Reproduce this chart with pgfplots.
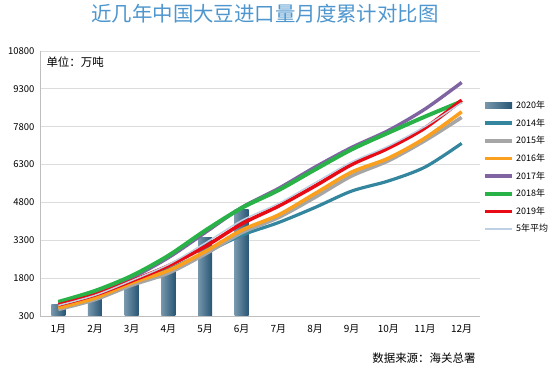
\documentclass[border=0pt]{standalone}
\usepackage{fontspec}
\setmainfont{Noto Sans CJK SC}
\usepackage{pgfplots}
\pgfplotsset{compat=1.18}
\definecolor{cteal}{RGB}{52,134,158}
\definecolor{cgray}{RGB}{166,166,166}
\definecolor{corange}{RGB}{250,160,30}
\definecolor{cpurple}{RGB}{128,100,162}
\definecolor{cgreen}{RGB}{40,178,72}
\definecolor{cred}{RGB}{232,10,20}
\definecolor{cavg}{RGB}{190,208,228}
\definecolor{barlight}{RGB}{118,150,172}
\definecolor{bardark}{RGB}{40,86,116}
\definecolor{titleblue}{RGB}{78,150,205}
\definecolor{gridgray}{RGB}{220,220,220}
\definecolor{axgray}{RGB}{190,190,190}
\begin{document}
\begin{tikzpicture}
\useasboundingbox (-40bp,-52bp) rectangle (510bp,316bp);
\begin{axis}[
  at={(0,0)}, anchor=south west, scale only axis,
  width=440bp, height=265bp,
  xmin=0.5, xmax=12.5, ymin=300, ymax=10800,
  xtick={1,...,12},
  xticklabels={1月,2月,3月,4月,5月,6月,7月,8月,9月,10月,11月,12月},
  ytick={300,1800,3300,4800,6300,7800,9300,10800},
  scaled y ticks=false,
  /pgf/number format/assume math mode=true,
  yticklabel style={/pgf/number format/fixed,/pgf/number format/1000 sep={},font=\fontsize{9.5}{10}\selectfont,xshift=-2bp},
  xticklabel style={font=\fontsize{10}{11}\selectfont,yshift=-5bp},
  major tick length=0pt,
  axis lines=left,
  axis line style={-,draw=axgray},
  ymajorgrids, grid style={draw=gridgray,line width=0.8bp},
  legend cell align=left,
  legend style={at={(1,0.82)}, anchor=north west, draw=none, fill=none,
    font=\fontsize{9}{9.5}\selectfont, row sep=4.6bp, inner xsep=3bp, inner ysep=0pt},
  legend image code/.code={\draw[#1] (0bp,0bp) -- (27bp,0bp);},
  barstyle/.style={ybar, bar width=14bp, bar shift=0pt, draw=none, left color=barlight, right color=bardark},
]
\addplot[barstyle,
  legend image code/.code={\fill[left color=barlight, right color=bardark] (0bp,-3bp) rectangle (27bp,3bp);}]
  coordinates {(1,770)};
\addlegendentry{2020年}
\addplot[barstyle, forget plot] coordinates {(2,980)};
\addplot[barstyle, forget plot] coordinates {(3,1620)};
\addplot[barstyle, forget plot] coordinates {(4,2150)};
\addplot[barstyle, forget plot] coordinates {(5,3400)};
\addplot[barstyle, forget plot] coordinates {(6,4500)};
\addplot[cteal, line width=3.2bp, smooth] coordinates {
 (1,640) (2,1000) (3,1550) (4,2150) (5,2800) (6,3500) (7,4000) (8,4600) (9,5250) (10,5650) (11,6200) (12,7140)};
\addlegendentry{2014年}
\addplot[cgray, line width=3.6bp, smooth] coordinates {
 (1,560) (2,950) (3,1520) (4,2000) (5,2750) (6,3600) (7,4200) (8,5000) (9,5850) (10,6450) (11,7250) (12,8169)};
\addlegendentry{2015年}
\addplot[corange, line width=3.6bp, smooth] coordinates {
 (1,620) (2,1015) (3,1610) (4,2100) (5,2850) (6,3700) (7,4300) (8,5150) (9,6000) (10,6550) (11,7350) (12,8391)};
\addlegendentry{2016年}
\addplot[cpurple, line width=3.4bp, smooth] coordinates {
 (1,820) (2,1215) (3,1810) (4,2610) (5,3600) (6,4600) (7,5350) (8,6200) (9,6980) (10,7650) (11,8500) (12,9553)};
\addlegendentry{2017年}
\addplot[cgreen, line width=4bp, smooth] coordinates {
 (1,860) (2,1295) (3,1890) (4,2690) (5,3680) (6,4580) (7,5280) (8,6100) (9,6900) (10,7560) (11,8200) (12,8803)};
\addlegendentry{2018年}
\addplot[cred, line width=3.6bp, smooth] coordinates {
 (1,740) (2,1135) (3,1690) (4,2290) (5,3050) (6,3950) (7,4650) (8,5450) (9,6300) (10,6950) (11,7750) (12,8851)};
\addlegendentry{2019年}
\addplot[cavg, line width=1.4bp, smooth] coordinates {
 (1,720) (2,1122) (3,1704) (4,2338) (5,3186) (6,4086) (7,4756) (8,5580) (9,6406) (10,7032) (11,7810) (12,8753)};
\addlegendentry{5年平均}
\end{axis}
\node[font=\fontsize{20.5}{21}\selectfont, text=titleblue] at (225bp,302bp) {近几年中国大豆进口量月度累计对比图};
\node[font=\fontsize{11.5}{12}\selectfont, anchor=west] at (3bp,254bp) {单位：万吨};
\node[font=\fontsize{11.5}{12}\selectfont, anchor=east] at (439bp,-42bp) {数据来源：海关总署};
\end{tikzpicture}
\end{document}
